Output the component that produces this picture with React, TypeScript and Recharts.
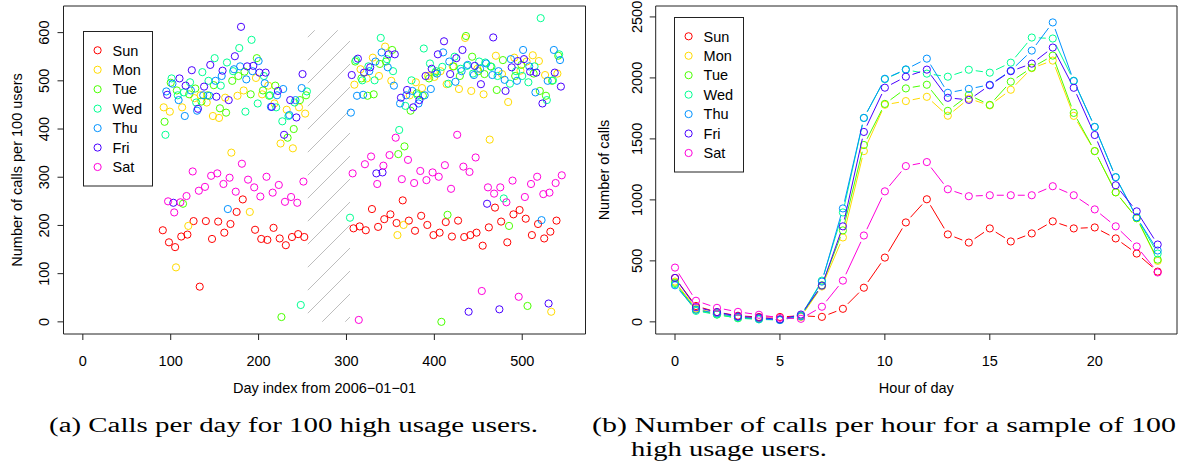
import React from "react"
import { ScatterChart, Scatter, LineChart, Line, XAxis, YAxis, ReferenceArea, Legend } from "recharts"

const FONT = "'Liberation Sans', Arial, Helvetica, sans-serif"
const SERIF = "'Liberation Serif', serif"

const dayNames = ["Sun", "Mon", "Tue", "Wed", "Thu", "Fri", "Sat"]
const dayColors = ["#FF0000", "#FFDB00", "#49FF00", "#00FF92", "#0092FF", "#4900FF", "#FF00DB"]

// week number since 2006-01-01 (a Sunday); day index = week * 7 + weekday
const weeks = [
  13, 14, 15, 16, 17, 18, 19, 20, 21, 22, 23, 24, 25, 26, 27, 28, 29, 30, 31, 32, 33, 34, 35, 36,
  43, 44, 45, 46, 47, 48, 49, 50, 51, 52, 53, 54, 55, 56, 57, 58, 59, 60, 61, 62, 63, 64, 65, 66, 67, 68,
  69, 70, 71, 72, 73, 74, 75, 76, 77,
]

// calls per 100 users, one value per week
const sunCalls = [
  190, 165, 155, 177, 181, 209, 73, 209, 172, 208, 185, 203, 228, 254, null, 191, 172, 170, 195, 173, 159, 176, 182, 176,
  null, 194, 198, 190, 234, 197, 213, 223, 205, 252, 210, 189, 220, 201, 180, 185, 207, 177, 210, 176, 180, 185, 158, 196,
  237, 208, 165, 223, 232, 214, 180, 203, 173, 187, 210,
]
const monCalls = [
  445, 436, 113, 445, 199, 464, 470, 455, 427, 423, 465, 351, 469, 480, 228, 506, 472, 490, 453, 370, 440, 360, 445, 432,
  null, 492, 524, 505, 548, 510, 571, 500, 180, 201, 470, 497, 485, 510, 508, 520, 493, 530, 483, 589, 479, 525, 472, 378,
  552, 514, 456, 548, 521, 540, 553, 541, 512, 21, 515,
]
const tueCalls = [
  415, 496, 480, 245, 472, 484, 457, 470, 491, 443, 434, 500, 510, 519, 472, 547, 480, 469, 490, 10, 382, 400, 460, 470,
  null, 540, 505, 469, 472, 535, 540, 564, 348, 364, 438, 474, 469, 505, 517, 0, 222, 530, 510, 593, 550, 520, 514, 530,
  481, 543, 199, 510, 533, 33, 515, 479, 469, 500, 552,
]
const wedCalls = [
  388, 505, 470, 476, 497, 455, 518, 500, 547, 490, 538, 520, 568, 436, 585, 453, 510, 470, 445, 416, 427, 455, 35, 478,
  216, 543, 501, 530, 501, 589, 545, 520, 398, 448, 501, 470, 567, 536, 520, 529, 494, 550, 525, 531, 515, 540, 538, 529,
  510, 256, 494, 520, 510, 497, 530, 630, 460, 501, 555,
]
const thuCalls = [
  478, 494, 460, 427, 480, 438, 470, 469, 500, 510, 234, 524, 530, 503, 520, 541, 495, 446, 470, 483, 429, 460, 485, null,
  434, 469, 471, 520, 540, 559, 528, 490, 453, 470, 479, 453, 470, 483, 515, 559, 540, 498, 520, 533, 512, 525, 536, 512,
  520, 502, 545, 500, 564, 530, 476, 211, 500, 564, 543,
]
const friCalls = [
  471, 247, 505, 490, 522, 442, 488, 533, 467, 521, 460, 551, 612, 530, 531, 517, 517, 446, 479, 388, 460, 424, 514, null,
  512, 546, 517, 528, 308, 310, 555, 555, 465, 481, 445, 460, 510, 525, 555, 582, 514, 547, 564, 21, 531, 493, 245, 590,
  26, 479, 528, 541, 545, 519, 517, 453, 38, 517, 488,
]
const satCalls = [
  250, 227, 248, 261, 312, 272, 280, 303, 308, 286, 299, 270, 328, 295, 279, 260, 301, 268, 284, 249, 259, 247, 291, null,
  308, 4, 327, 343, 286, 324, 346, 382, 296, 336, 288, 313, 294, 310, 301, 325, 276, 388, 322, 311, 341, 64, 279, 266,
  279, 248, 293, 52, 259, 286, 301, 265, 268, 288, 304,
]
const callsByDay = [sunCalls, monCalls, tueCalls, wedCalls, thuCalls, friCalls, satCalls]

const dayTicks = [0, 100, 200, 300, 400, 500]
const callTicks = [0, 100, 200, 300, 400, 500, 600]

// hourly calls for the sample
const hours = [0, 1, 2, 3, 4, 5, 6, 7, 8, 9, 10, 11, 12, 13, 14, 15, 16, 17, 18, 19, 20, 21, 22, 23]
const sunHourly = [360, 130, 80, 50, 40, 40, 50, 41, 107, 280, 527, 815, 1005, 717, 650, 766, 659, 725, 824, 766, 774, 684, 560, 412]
const monHourly = [330, 110, 70, 40, 30, 20, 40, 290, 692, 1400, 1780, 1810, 1845, 1690, 1830, 1775, 1903, 2080, 2142, 1689, 1400, 1062, 850, 500]
const tueHourly = [320, 100, 60, 30, 25, 20, 50, 300, 750, 1450, 1787, 1914, 1944, 1730, 1860, 1779, 1969, 2084, 2183, 1713, 1400, 1062, 850, 510]
const wedHourly = [310, 90, 60, 30, 20, 15, 50, 338, 897, 1672, 1990, 2067, 2035, 2010, 2067, 2043, 2125, 2331, 2323, 1977, 1598, 1186, 857, 560]
const thuHourly = [300, 100, 70, 40, 25, 15, 45, 330, 930, 1672, 1993, 2070, 2158, 1878, 1910, 1944, 2059, 2224, 2455, 1974, 1598, 1186, 857, 585]
const friHourly = [360, 120, 80, 45, 35, 20, 60, 297, 783, 1557, 1920, 2010, 2068, 1837, 1820, 1940, 2055, 2117, 2249, 1919, 1532, 1120, 906, 634]
const satHourly = [445, 173, 115, 82, 58, 33, 25, 124, 338, 708, 1070, 1277, 1310, 1087, 1030, 1038, 1038, 1038, 1112, 1038, 922, 783, 618, 405]
const hourlyByDay = [sunHourly, monHourly, tueHourly, wedHourly, thuHourly, friHourly, satHourly]

const hourTicks = [0, 5, 10, 15, 20]
const hourlyTicks = [0, 500, 1000, 1500, 2000, 2500]

const scatterSeries = dayNames.map((name, wd) => ({
  name,
  color: dayColors[wd],
  points: weeks
    .map((w, i) => ({ day: w * 7 + wd, calls: callsByDay[wd][i] }))
    .filter((p) => p.calls !== null),
}))

const hourlyData = hours.map((hour, i) => {
  const row: Record<string, number> = { hour }
  dayNames.forEach((n, d) => (row[n] = hourlyByDay[d][i]))
  return row
})

const tickStyle = { fill: "#000", fontSize: 14.5, fontFamily: FONT }

function VTick(props: any) {
  const { x, y, payload } = props
  return (
    <text x={x} y={y} transform={`rotate(-90, ${x}, ${y})`} textAnchor="middle" fill="#000" fontSize={14.5} fontFamily={FONT}>
      {payload.value}
    </text>
  )
}

function DayLegend() {
  return (
    <svg width={70} height={156} style={{ display: "block" }}>
      <rect x={0.5} y={0.5} width={69} height={154.5} fill="#fff" stroke="#222" />
      {dayNames.map((n, i) => (
        <g key={n}>
          <circle cx={14.6} cy={19.3 + i * 19.45} r={3.6} fill="none" stroke={dayColors[i]} />
          <text x={29.6} y={19.3 + i * 19.45} dy="0.36em" fontFamily={FONT} fontSize={14.5} fill="#000">
            {n}
          </text>
        </g>
      ))}
    </svg>
  )
}

// R type="b": segments between points, with a gap around each circle
const linePts: Record<string, Array<[number, number]>> = {}
function makeHourDot(name: string, color: string) {
  return (props: any) => {
    const { cx, cy, index } = props
    if (cx == null || cy == null) return <g key={`${name}-${index}`} />
    const pts = (linePts[name] = linePts[name] || [])
    pts[index] = [cx, cy]
    const prev = index > 0 ? pts[index - 1] : undefined
    let seg = null
    if (prev) {
      const dx = cx - prev[0]
      const dy = cy - prev[1]
      const len = Math.hypot(dx, dy)
      const gap = 7
      if (len > gap * 2) {
        const ux = dx / len
        const uy = dy / len
        seg = (
          <line x1={prev[0] + ux * gap} y1={prev[1] + uy * gap} x2={cx - ux * gap} y2={cy - uy * gap} stroke={color} strokeWidth={1} />
        )
      }
    }
    return (
      <g key={`${name}-${index}`}>
        {seg}
        <circle cx={cx} cy={cy} r={3.6} fill="none" stroke={color} strokeWidth={1} />
      </g>
    )
  }
}

function CallsPerDay() {
  return (
    <ScatterChart width={600} height={400} margin={{ top: 6, right: 14.5, bottom: 36, left: 13.5 }}>
      <XAxis
        type="number"
        dataKey="day"
        domain={[-22, 572]}
        ticks={dayTicks}
        allowDataOverflow
        interval={0}
        height={30}
        tickSize={6}
        tickMargin={15.6}
        axisLine={false}
        tickLine={{ stroke: "#222" }}
        tick={tickStyle}
        label={{ value: "Day index from 2006\u221201\u221201", position: "bottom", offset: 18.7, fill: "#000", fontSize: 14.5, fontFamily: FONT }}
      />
      <YAxis
        type="number"
        dataKey="calls"
        domain={[-25.2, 655.2]}
        ticks={callTicks}
        allowDataOverflow
        interval={0}
        width={50}
        tickSize={6}
        tickMargin={8.5}
        axisLine={false}
        tickLine={{ stroke: "#222" }}
        tick={(p: any) => <VTick {...p} />}
        label={{
          value: "Number of calls per 100 users",
          angle: -90,
          position: "insideLeft",
          offset: 3.5,
          style: { textAnchor: "middle" },
          fill: "#000",
          fontSize: 14.5,
          fontFamily: FONT,
        }}
      />
      <ReferenceArea x1={256} x2={304} y1={0} y2={605} fill="url(#hatch)" fillOpacity={1} stroke="none" />
      {scatterSeries.map((s) => (
        <Scatter
          key={s.name}
          name={s.name}
          data={s.points}
          isAnimationActive={false}
          shape={(p: any) => <circle cx={p.cx} cy={p.cy} r={3.6} fill="none" stroke={s.color} strokeWidth={1} />}
        />
      ))}
      <ReferenceArea x1={-22} x2={572} y1={-25.2} y2={655.2} fill="none" stroke="#222" strokeWidth={1} />
      <Legend
        layout="vertical"
        align="center"
        verticalAlign="middle"
        content={() => <DayLegend />}
        wrapperStyle={{ left: 82.7, top: 30.7, width: 70, height: 156 }}
      />
    </ScatterChart>
  )
}

function CallsPerHour() {
  return (
    <LineChart width={589} height={400} data={hourlyData} margin={{ top: 6, right: 2, bottom: 36, left: 15.7 }}>
      <XAxis
        type="number"
        dataKey="hour"
        domain={[-0.92, 23.92]}
        ticks={hourTicks}
        allowDataOverflow
        interval={0}
        height={30}
        tickSize={6}
        tickMargin={15.6}
        axisLine={false}
        tickLine={{ stroke: "#222" }}
        tick={tickStyle}
        label={{ value: "Hour of day", position: "bottom", offset: 18.7, fill: "#000", fontSize: 14.5, fontFamily: FONT }}
      />
      <YAxis
        type="number"
        domain={[-99.6, 2589.6]}
        ticks={hourlyTicks}
        allowDataOverflow
        interval={0}
        width={50}
        tickSize={6}
        tickMargin={8}
        axisLine={false}
        tickLine={{ stroke: "#222" }}
        tick={(p: any) => <VTick {...p} />}
        label={{
          value: "Number of calls",
          angle: -90,
          position: "insideLeft",
          offset: -1.7,
          style: { textAnchor: "middle" },
          fill: "#000",
          fontSize: 14.5,
          fontFamily: FONT,
        }}
      />
      {dayNames.map((n, i) => (
        <Line
          key={n}
          dataKey={n}
          stroke="none"
          dot={makeHourDot(n, dayColors[i])}
          activeDot={false}
          isAnimationActive={false}
        />
      ))}
      <ReferenceArea x1={-0.92} x2={23.92} y1={-99.6} y2={2589.6} fill="none" stroke="#222" strokeWidth={1} />
      <Legend
        layout="vertical"
        align="center"
        verticalAlign="middle"
        content={() => <DayLegend />}
        wrapperStyle={{ left: 84.3, top: 17.3, width: 70, height: 156 }}
      />
    </LineChart>
  )
}

export default function App() {
  return (
    <div style={{ position: "absolute", left: 0, top: 0, width: 1179, height: 461, background: "#fff", overflow: "hidden" }}>
      <svg width={0} height={0} style={{ position: "absolute" }}>
        <defs>
          <pattern id="hatch" patternUnits="userSpaceOnUse" width={23} height={23}>
            <path d="M0,23 L23,0 M-2,2 L2,-2 M21,25 L25,21" stroke="#bdbdbd" strokeWidth={1} />
          </pattern>
        </defs>
      </svg>
      <div style={{ position: "absolute", left: 0, top: 0 }}>
        <CallsPerDay />
      </div>
      <div style={{ position: "absolute", left: 590, top: 0 }}>
        <CallsPerHour />
      </div>
      <svg width={1179} height={461} style={{ position: "absolute", left: 0, top: 0, pointerEvents: "none" }}>
        <text x={49} y={432} fontFamily={SERIF} fontSize={20} fill="#000" textLength={489} lengthAdjust="spacingAndGlyphs">
          (a) Calls per day for 100 high usage users.
        </text>
        <text x={592} y={432} fontFamily={SERIF} fontSize={20} fill="#000" textLength={584} lengthAdjust="spacingAndGlyphs">
          (b) Number of calls per hour for a sample of 100
        </text>
        <text x={631} y={456} fontFamily={SERIF} fontSize={20} fill="#000" textLength={196} lengthAdjust="spacingAndGlyphs">
          high usage users.
        </text>
      </svg>
    </div>
  )
}
